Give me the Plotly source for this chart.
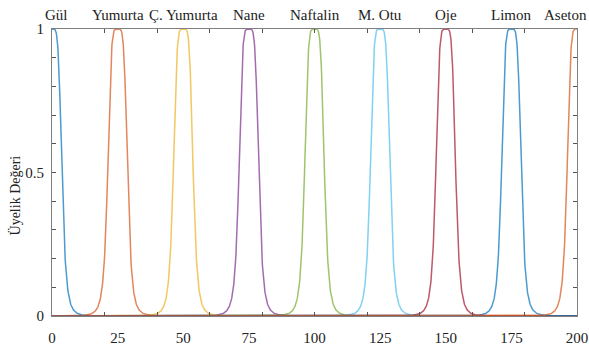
import numpy as np
import plotly.graph_objects as go

# Membership function definitions (generalized bell: centre, half-width, slope)
labels = ["Gül", "Yumurta", "Ç. Yumurta", "Nane", "Naftalin", "M. Otu", "Oje", "Limon", "Aseton"]
centers = [0, 25, 50, 75, 100, 125, 150, 175, 200]
widths = [3.8, 3.8, 3.8, 3.8, 3.8, 3.8, 3.8, 3.8, 3.8]
slopes = [2.5, 2.5, 2.5, 2.5, 2.5, 2.5, 2.5, 2.5, 2.5]
x_ticklabels = [0, 25, 50, 75, 100, 125, 150, 175, 200]
y_ticklabels = [0, 0.5, 1]

colors = ["#0072bd", "#d95319", "#edb120", "#7e2f8e", "#77ac30",
          "#4dbeee", "#a2142f", "#0072bd", "#d95319"]

x = np.linspace(0, 200, 2001)

fig = go.Figure()
for lab, c, a, b, col in zip(labels, centers, widths, slopes, colors):
    y = 1.0 / (1.0 + np.abs((x - c) / a) ** (2 * b))
    fig.add_trace(go.Scatter(x=x, y=y, mode="lines", name=lab,
                             line=dict(color=col, width=1.5), opacity=0.7,
                             hoverinfo="skip", xaxis="x2"))

font = dict(family="Liberation Serif, serif", size=15, color="#222")

fig.update_layout(
    width=589, height=354,
    margin=dict(l=52, r=12, t=29, b=38, autoexpand=False),
    paper_bgcolor="white", plot_bgcolor="white",
    showlegend=False,
    font=font,
    xaxis=dict(range=[0, 200], tickvals=x_ticklabels, ticktext=[str(v) for v in x_ticklabels],
               ticks="", showgrid=False, zeroline=False, showline=True, linecolor="#808080",
               linewidth=1.2, mirror=True, tickfont=font, ticklabelstandoff=8, automargin=False),
    xaxis2=dict(range=[0, 200], overlaying="x", side="bottom", dtick=20, tick0=0,
                ticks="inside", ticklen=4, tickcolor="#555", showticklabels=False,
                showgrid=False, zeroline=False, mirror="allticks", showline=True,
                linecolor="#808080", linewidth=1.2, automargin=False),
    yaxis=dict(range=[0, 1], tickvals=y_ticklabels, ticktext=["0", "0.5", "1"],
               ticks="inside", ticklen=4, tickcolor="#555",
               minor=dict(dtick=0.1, tick0=0, ticks="inside", ticklen=4, tickcolor="#555"),
               showgrid=False, zeroline=False, showline=True, linecolor="#808080",
               linewidth=1.2, mirror="allticks", tickfont=font, automargin=False,
               ticklabelstandoff=4),
)

# y-axis title
fig.add_annotation(x=0, y=0.42, xref="paper", yref="paper", xshift=-37,
                   text="Üyelik Değeri", textangle=-90, showarrow=False,
                   xanchor="center", yanchor="middle",
                   font=dict(family="Liberation Serif, serif", size=14, color="#222"))

for i, (lab, c) in enumerate(zip(labels, centers)):
    shift = 0
    anchor = "center"
    if i == 0:
        shift = 4
    if i == len(labels) - 1:
        anchor = "right"
        shift = 12
    fig.add_annotation(x=c, y=1, xref="x", yref="paper", yshift=4, xshift=shift,
                       xanchor=anchor, text=lab,
                       showarrow=False, yanchor="bottom", font=font)

fig.write_html("out.html", config={"displayModeBar": False},
               post_script="document.body.style.margin='0';document.body.style.padding='0';")
